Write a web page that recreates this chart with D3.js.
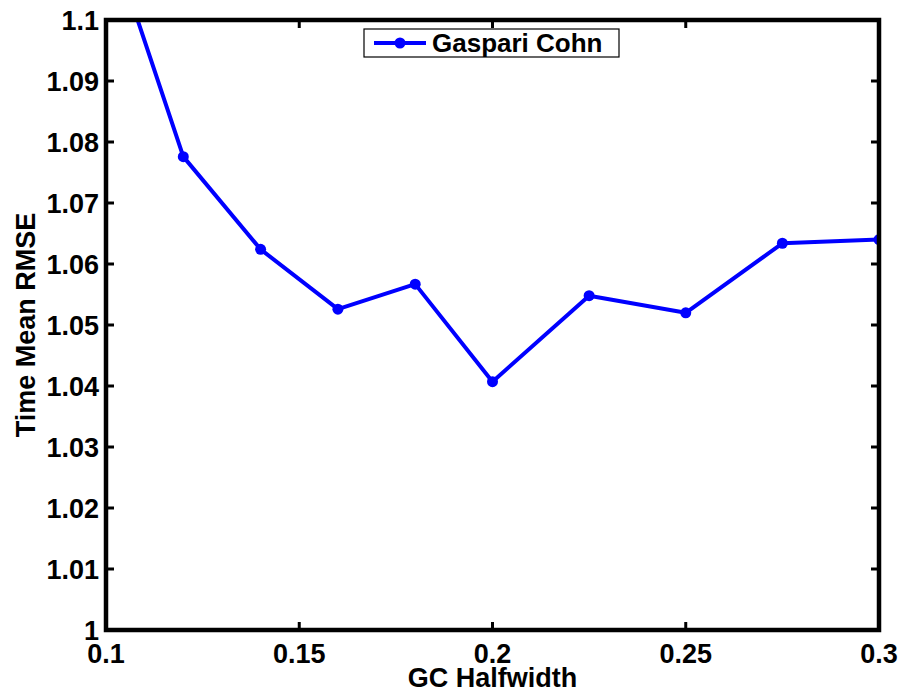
<!DOCTYPE html>
<html><head><meta charset="utf-8">
<script src="https://cdn.jsdelivr.net/npm/d3@7"></script>
<style>
body{margin:0;background:#fff;}
svg{display:block;}
text{font-family:"Liberation Sans",Arial,Helvetica,sans-serif;font-weight:bold;fill:#000;}
</style></head>
<body>
<svg id="chart" width="902" height="692"></svg>
<script>
const halfwidths = [0.10, 0.12, 0.14, 0.16, 0.18, 0.20, 0.225, 0.25, 0.275, 0.30];
const rmse = [1.1155, 1.0776, 1.0624, 1.0526, 1.0567, 1.0407, 1.0548, 1.0520, 1.0634, 1.0640];
const xTicks = [0.1, 0.15, 0.2, 0.25, 0.3];
const xTickLabels = ["0.1", "0.15", "0.2", "0.25", "0.3"];
const yTicks = [1, 1.01, 1.02, 1.03, 1.04, 1.05, 1.06, 1.07, 1.08, 1.09, 1.1];
const yTickLabels = ["1", "1.01", "1.02", "1.03", "1.04", "1.05", "1.06", "1.07", "1.08", "1.09", "1.1"];
const seriesName = "Gaspari Cohn";
const xLabel = "GC Halfwidth";
const yLabel = "Time Mean RMSE";

const L = 106, R = 879, T = 20, B = 630;
const svg = d3.select("#chart");
const x = d3.scaleLinear().domain([0.1, 0.3]).range([L, R]);
const y = d3.scaleLinear().domain([1, 1.1]).range([B, T]);
const fs = 27, tickLen = 8, blue = "#0000ff";

svg.append("defs").append("clipPath").attr("id", "clip")
  .append("rect").attr("x", L).attr("y", T).attr("width", R - L).attr("height", B - T);

const plot = svg.append("g").attr("clip-path", "url(#clip)");
const line = d3.line().x((d, i) => x(halfwidths[i])).y(d => y(d));
plot.append("path").datum(rmse).attr("d", line)
  .attr("fill", "none").attr("stroke", blue).attr("stroke-width", 4).attr("stroke-linejoin", "round");
plot.selectAll("circle").data(rmse).enter().append("circle")
  .attr("cx", (d, i) => x(halfwidths[i])).attr("cy", d => y(d)).attr("r", 5.5).attr("fill", blue);

// ticks (inward, all sides)
const tk = svg.append("g").attr("stroke", "#000").attr("stroke-width", 3);
xTicks.forEach(v => {
  tk.append("line").attr("x1", x(v)).attr("x2", x(v)).attr("y1", B).attr("y2", B - tickLen);
  tk.append("line").attr("x1", x(v)).attr("x2", x(v)).attr("y1", T).attr("y2", T + tickLen);
});
yTicks.forEach(v => {
  tk.append("line").attr("x1", L).attr("x2", L + tickLen).attr("y1", y(v)).attr("y2", y(v));
  tk.append("line").attr("x1", R).attr("x2", R - tickLen).attr("y1", y(v)).attr("y2", y(v));
});

// box
svg.append("rect").attr("x", L).attr("y", T).attr("width", R - L).attr("height", B - T)
  .attr("fill", "none").attr("stroke", "#000").attr("stroke-width", 4.5);

// tick labels
svg.selectAll(".xt").data(xTicks).enter().append("text")
  .attr("x", d => x(d)).attr("y", B + 33).attr("text-anchor", "middle")
  .style("font-size", fs + "px").text((d, i) => xTickLabels[i]);
svg.selectAll(".yt").data(yTicks).enter().append("text")
  .attr("x", L - 7).attr("y", d => y(d) + 10).attr("text-anchor", "end")
  .style("font-size", fs + "px").text((d, i) => yTickLabels[i]);

// axis labels
svg.append("text").attr("x", (L + R) / 2).attr("y", 687).attr("text-anchor", "middle")
  .style("font-size", fs + "px").text(xLabel);
svg.append("text").attr("transform", `translate(35,${(T + B) / 2}) rotate(-90)`)
  .attr("text-anchor", "middle").style("font-size", fs + "px").text(yLabel);

// legend
const lg = svg.append("g");
lg.append("rect").attr("x", 364).attr("y", 29).attr("width", 255).attr("height", 28)
  .attr("fill", "#fff").attr("stroke", "#000").attr("stroke-width", 1.2);
lg.append("line").attr("x1", 374).attr("x2", 426).attr("y1", 43).attr("y2", 43)
  .attr("stroke", blue).attr("stroke-width", 4);
lg.append("circle").attr("cx", 400).attr("cy", 43).attr("r", 5.5).attr("fill", blue);
lg.append("text").attr("x", 432).attr("y", 52).style("font-size", "26px").text(seriesName);
</script>
</body></html>
